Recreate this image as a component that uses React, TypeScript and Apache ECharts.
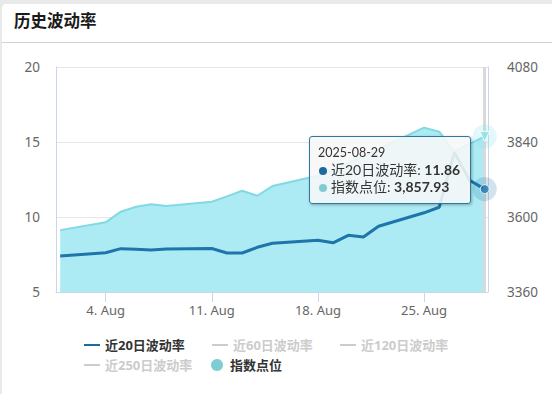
import React, { useEffect, useRef } from "react";
import * as echarts from "echarts";

const dates = [
  "2025-08-01", "2025-08-04", "2025-08-05", "2025-08-06", "2025-08-07", "2025-08-08",
  "2025-08-11", "2025-08-12", "2025-08-13", "2025-08-14", "2025-08-15",
  "2025-08-18", "2025-08-19", "2025-08-20", "2025-08-21", "2025-08-22",
  "2025-08-25", "2025-08-26", "2025-08-27", "2025-08-28", "2025-08-29",
];
const vol20 = [7.40, 7.62, 7.89, 7.85, 7.80, 7.87, 7.90, 7.60, 7.60, 7.98, 8.25, 8.45, 8.28, 8.78, 8.67, 9.38, 10.28, 10.65, 14.30, 12.45, 11.86];
const vol60: number[] = [];
const vol120: number[] = [];
const vol250: number[] = [];
const indexLevel = [3558, 3583, 3617, 3633, 3641, 3635, 3649, 3666, 3684, 3668, 3699, 3732, 3752, 3772, 3795, 3818, 3886, 3873, 3809, 3834, 3857.93];
const xTickDates = ["2025-08-04", "2025-08-11", "2025-08-18", "2025-08-25"];
const MONTHS = ["Jan", "Feb", "Mar", "Apr", "May", "Jun", "Jul", "Aug", "Sep", "Oct", "Nov", "Dec"];

const N20 = "近20日波动率";
const N60 = "近60日波动率";
const N120 = "近120日波动率";
const N250 = "近250日波动率";
const NIDX = "指数点位";

const DARK = "#1c6b9c";
const TEAL = "#7ecdd4";
const FONT = "'Noto Sans', 'Noto Sans CJK SC', sans-serif";
const TIP_FONT = "Lato, 'Noto Sans CJK SC', sans-serif";

const DAY = 86400000;
// day number (days since epoch, UTC)
const toDay = (s: string) => {
  const [y, m, d] = s.split("-").map(Number);
  return Date.UTC(y, m - 1, d) / DAY;
};
const dayToIso = (v: number) => new Date(Math.round(v) * DAY).toISOString().slice(0, 10);

export default function App() {
  const ref = useRef<HTMLDivElement>(null);
  useEffect(() => {
    document.body.style.margin = "0";
    if (!ref.current) return;
    const chart = echarts.init(ref.current, null, { renderer: "svg" });
    const days = dates.map(toDay);
    const last = days.length - 1;
    const tickDays = xTickDates.map(toDay);
    const hidden = { [N60]: false, [N120]: false, [N250]: false };
    const legendBase = {
      orient: "horizontal" as const,
      padding: 0,
      itemGap: 29,
      inactiveColor: "#cccccc",
      selected: hidden,
      textStyle: { fontSize: 13, fontWeight: "bold" as const, color: "#333", fontFamily: FONT, lineHeight: 16 },
    };
    const lineLegend = { ...legendBase, itemWidth: 16, itemHeight: 2, icon: "rect" };
    chart.setOption({
      animation: false,
      title: {
        text: "历史波动率",
        left: 14,
        top: 12,
        padding: 0,
        textStyle: { fontSize: 16.5, fontWeight: "bold", color: "#1a1a1a", fontFamily: FONT },
      },
      graphic: [
        {
          type: "line",
          shape: { x1: 2, y1: 42.5, x2: 552, y2: 42.5 },
          style: { stroke: "#d3d3d3", lineWidth: 1 },
          silent: true,
        },
      ],
      grid: { left: 56, top: 67, width: 432, height: 225 },
      legend: [
        { ...lineLegend, left: 84, top: 337, data: [N20] },
        { ...lineLegend, left: 212, top: 337, data: [N60] },
        { ...lineLegend, left: 340, top: 337, data: [N120] },
        { ...lineLegend, left: 84, top: 357, data: [N250] },
        { ...legendBase, left: 211, top: 357, itemWidth: 16, itemHeight: 12, icon: "circle", data: [NIDX] },
      ],
      tooltip: {
        trigger: "axis",
        triggerOn: "none",
        alwaysShowContent: true,
        transitionDuration: 0,
        axisPointer: { type: "none" },
        position: [309, 136],
        backgroundColor: "rgba(247,247,247,0.88)",
        borderColor: "#2f77a3",
        borderWidth: 1.5,
        padding: [8, 10, 8, 8],
        extraCssText: "box-shadow: 1px 1px 3px rgba(0,0,0,0.3); border-radius: 3px;",
        textStyle: { fontSize: 14, color: "#333", fontFamily: TIP_FONT },
        formatter: (params: any) => {
          const arr = (Array.isArray(params) ? params : [params]).filter(
            (p: any) => p.seriesName === N20 || p.seriesName === NIDX
          );
          if (!arr.length) return "";
          const ds = dayToIso(arr[0].value[0]);
          let html = `<div style="font-size:12.5px;line-height:16px;height:16px;color:#333;font-family:${TIP_FONT}">${ds}</div>`;
          arr.forEach((p: any) => {
            const c = p.seriesName === N20 ? DARK : TEAL;
            const v = p.seriesName === N20
              ? Number(p.value[1]).toFixed(2)
              : Number(p.value[1]).toLocaleString("en-US", { minimumFractionDigits: 2, maximumFractionDigits: 2 });
            html += `<div style="line-height:17px;height:17px;white-space:nowrap;font-family:${TIP_FONT}"><span style="display:inline-block;width:8px;height:8px;border-radius:4px;background:${c};margin:0 4px 1px 1px;vertical-align:middle"></span>${p.seriesName}: <b>${v}</b></div>`;
          });
          return html;
        },
      },
      xAxis: {
        type: "value",
        min: days[0] - 0.277,
        max: days[last] + 0.218,
        axisLine: { show: true, onZero: false, lineStyle: { color: "#ccd6eb", width: 1 } },
        axisTick: {
          show: true,
          length: 10,
          lineStyle: { color: "#ccd6eb" },
          customValues: tickDays,
        },
        axisLabel: {
          margin: 11,
          fontSize: 13,
          color: "#666",
          fontFamily: FONT,
          customValues: tickDays,
          formatter: (v: number) => {
            const d = new Date(Math.round(v) * DAY);
            return `${d.getUTCDate()}. ${MONTHS[d.getUTCMonth()]}`;
          },
        },
        splitLine: { show: false },
      },
      yAxis: [
        {
          type: "value",
          min: 5,
          max: 20,
          interval: 5,
          position: "left",
          axisLine: { show: true, lineStyle: { color: "#ccd6eb" } },
          axisTick: { show: false },
          axisLabel: { margin: 16, fontSize: 13.5, color: "#666", fontFamily: FONT },
          splitLine: { show: true, lineStyle: { color: "#e6e6e6" } },
        },
        {
          type: "value",
          min: 3360,
          max: 4080,
          interval: 240,
          position: "right",
          axisLine: { show: true, lineStyle: { color: "#ccd6eb" } },
          axisTick: { show: false },
          axisLabel: { margin: 19, fontSize: 13.5, color: "#666", fontFamily: FONT, formatter: (v: number) => String(v) },
          splitLine: { show: false },
        },
      ],
      series: [
        {
          name: N20,
          type: "line",
          yAxisIndex: 0,
          z: 4,
          color: DARK,
          symbol: "none",
          lineStyle: { width: 3, color: DARK },
          data: days.map((t, i) => [t, vol20[i]]),
        },
        { name: N60, type: "line", color: "#90ed7d", symbol: "none", data: vol60 },
        { name: N120, type: "line", color: "#f7a35c", symbol: "none", data: vol120 },
        { name: N250, type: "line", color: "#8085e9", symbol: "none", data: vol250 },
        {
          name: NIDX,
          type: "line",
          yAxisIndex: 1,
          z: 2,
          color: TEAL,
          symbol: "none",
          lineStyle: { width: 2, color: "#76c6cf" },
          areaStyle: { color: "#9ed6de", opacity: 1, origin: "start" },
          data: days.map((t, i) => [t, indexLevel[i]]),
          markLine: {
            silent: true,
            symbol: "none",
            label: { show: false },
            lineStyle: { color: "#d9d9d9", width: 3, type: "solid" },
            data: [{ xAxis: days[last] }],
          },
        },
        {
          name: "_haloIdx",
          type: "scatter",
          yAxisIndex: 1,
          z: 5,
          silent: true,
          symbolSize: 22,
          itemStyle: { color: "rgba(126,205,212,0.3)" },
          data: [[days[last], indexLevel[last]]],
        },
        {
          name: "_markIdx",
          type: "scatter",
          yAxisIndex: 1,
          z: 6,
          silent: true,
          symbol: "triangle",
          symbolRotate: 180,
          symbolSize: 9,
          itemStyle: { color: TEAL, borderColor: "#fff", borderWidth: 1 },
          data: [[days[last], indexLevel[last]]],
        },
        {
          name: "_haloVol",
          type: "scatter",
          yAxisIndex: 0,
          z: 5,
          silent: true,
          symbolSize: 22,
          itemStyle: { color: "rgba(28,107,156,0.25)" },
          data: [[days[last], vol20[last]]],
        },
        {
          name: "_markVol",
          type: "scatter",
          yAxisIndex: 0,
          z: 6,
          silent: true,
          symbol: "circle",
          symbolSize: 8,
          itemStyle: { color: DARK, borderColor: "#fff", borderWidth: 1 },
          data: [[days[last], vol20[last]]],
        },
      ],
    });
    chart.dispatchAction({ type: "showTip", seriesIndex: 4, dataIndex: last });
    return () => chart.dispose();
  }, []);

  return (
    <div style={{ position: "relative", width: 552, height: 394, background: "#e9e9e9", overflow: "hidden" }}>
      <div style={{ position: "absolute", left: 2, top: 4, width: 560, height: 400, background: "#fff", borderRadius: 4 }} />
      <div ref={ref} style={{ position: "absolute", left: 0, top: 0, width: 552, height: 394 }} />
    </div>
  );
}
